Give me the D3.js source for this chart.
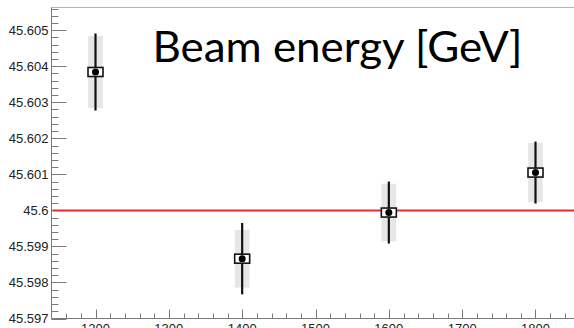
<!DOCTYPE html>
<html>
<head>
<meta charset="utf-8">
<script src="https://cdn.jsdelivr.net/npm/d3@7"></script>
<style>
  html, body { margin: 0; padding: 0; background: #fff; overflow: hidden; }
  svg { display: block; }
</style>
</head>
<body>
<div id="vis"></div>
<script>
// run energies (x) and measured beam energy (y)
var energies = [1200, 1400, 1600, 1800];
var beamEnergy = [45.60384, 45.59866, 45.59994, 45.60105];
var statErr = [0.00107, 0.00099, 0.00086, 0.00086];
var systErr = [0.00100, 0.00080, 0.00080, 0.00082];
var nominal = 45.6;

var xTicks = [1200, 1300, 1400, 1500, 1600, 1700, 1800];
var yTicks = [45.597, 45.598, 45.599, 45.6, 45.601, 45.602, 45.603, 45.604, 45.605];
var yTickLabels = ['45.597', '45.598', '45.599', '45.6', '45.601', '45.602', '45.603', '45.604', '45.605'];

var width = 574, height = 328;

var prefs = {
  frameLeft: 51.5,
  frameRight: 579.5,
  frameTop: 7.5,
  frameBottom: 318.5,
  axisColor: '#7a7a7a',
  labelColor: '#222',
  bandColor: '#e6e6e6',
  lineColor: '#ee2b2b'
};

var x = d3.scaleLinear().domain([1140, 1860]).range([prefs.frameLeft, prefs.frameRight]);
var y = d3.scaleLinear().domain([45.597, 45.60563]).range([prefs.frameBottom, prefs.frameTop]);

var svg = d3.select('#vis').append('svg')
  .attr('width', width)
  .attr('height', height);

/* frame */
svg.append('line')
  .attr('x1', prefs.frameLeft).attr('x2', width + 10)
  .attr('y1', prefs.frameTop).attr('y2', prefs.frameTop)
  .attr('stroke', '#b5b5b5').attr('stroke-width', 1);

/* y axis with ROOT-like long ticks */
var yMinor = d3.range(45.597, 45.6057, 0.0002);
var yAxis = svg.append('g').attr('class', 'y axis');
yAxis.append('line')
  .attr('x1', prefs.frameLeft).attr('x2', prefs.frameLeft)
  .attr('y1', prefs.frameTop).attr('y2', prefs.frameBottom)
  .attr('stroke', prefs.axisColor);
yAxis.selectAll('.minor')
  .data(yMinor)
  .enter().append('line')
    .attr('class', 'minor')
    .attr('x1', prefs.frameLeft).attr('x2', prefs.frameLeft + 7)
    .attr('y1', function(d) { return Math.round(y(d)) + 0.5; })
    .attr('y2', function(d) { return Math.round(y(d)) + 0.5; })
    .attr('stroke', prefs.axisColor);
yAxis.selectAll('.major')
  .data(yTicks)
  .enter().append('line')
    .attr('class', 'major')
    .attr('x1', prefs.frameLeft).attr('x2', prefs.frameLeft + 15)
    .attr('y1', function(d) { return Math.round(y(d)) + 0.5; })
    .attr('y2', function(d) { return Math.round(y(d)) + 0.5; })
    .attr('stroke', prefs.axisColor);
yAxis.selectAll('text')
  .data(yTicks)
  .enter().append('text')
    .attr('x', prefs.frameLeft - 3)
    .attr('y', function(d) { return y(d); })
    .attr('dy', '0.36em')
    .attr('text-anchor', 'end')
    .attr('font-family', '"Liberation Sans", Arial, sans-serif')
    .attr('font-size', 13)
    .attr('fill', prefs.labelColor)
    .text(function(d, i) { return yTickLabels[i]; });

/* x axis */
var xMinor = d3.range(1160, 1861, 20);
var xAxis = svg.append('g').attr('class', 'x axis');
xAxis.append('line')
  .attr('x1', prefs.frameLeft).attr('x2', width + 10)
  .attr('y1', prefs.frameBottom).attr('y2', prefs.frameBottom)
  .attr('stroke', prefs.axisColor);
xAxis.selectAll('.minor')
  .data(xMinor)
  .enter().append('line')
    .attr('class', 'minor')
    .attr('x1', function(d) { return Math.round(x(d)) + 0.5; })
    .attr('x2', function(d) { return Math.round(x(d)) + 0.5; })
    .attr('y1', prefs.frameBottom).attr('y2', prefs.frameBottom - 5)
    .attr('stroke', prefs.axisColor);
xAxis.selectAll('.major')
  .data(xTicks)
  .enter().append('line')
    .attr('class', 'major')
    .attr('x1', function(d) { return Math.round(x(d)) + 0.5; })
    .attr('x2', function(d) { return Math.round(x(d)) + 0.5; })
    .attr('y1', prefs.frameBottom).attr('y2', prefs.frameBottom - 9)
    .attr('stroke', prefs.axisColor);
xAxis.selectAll('text')
  .data(xTicks)
  .enter().append('text')
    .attr('x', function(d) { return x(d); })
    .attr('y', prefs.frameBottom + 14)
    .attr('text-anchor', 'middle')
    .attr('font-family', '"Liberation Sans", Arial, sans-serif')
    .attr('font-size', 13)
    .attr('fill', prefs.labelColor)
    .text(function(d) { return d; });

/* nominal value line */
svg.append('line')
  .attr('x1', prefs.frameLeft + 1).attr('x2', width + 10)
  .attr('y1', y(nominal)).attr('y2', y(nominal))
  .attr('stroke', prefs.lineColor)
  .attr('stroke-width', 2);

/* points */
var points = energies.map(function(e, i) {
  return { e: e, v: beamEnergy[i], stat: statErr[i], syst: systErr[i] };
});

var pts = svg.selectAll('.point')
  .data(points)
  .enter().append('g')
    .attr('class', 'point');

pts.append('rect')
  .attr('x', function(d) { return x(d.e - 10); })
  .attr('width', function(d) { return x(d.e + 10) - x(d.e - 10); })
  .attr('y', function(d) { return y(d.v + d.syst); })
  .attr('height', function(d) { return y(d.v - d.syst) - y(d.v + d.syst); })
  .attr('fill', prefs.bandColor);

pts.append('line')
  .attr('x1', function(d) { return x(d.e); })
  .attr('x2', function(d) { return x(d.e); })
  .attr('y1', function(d) { return y(d.v + d.stat); })
  .attr('y2', function(d) { return y(d.v - d.stat); })
  .attr('stroke', '#111')
  .attr('stroke-width', 2.2);

pts.append('rect')
  .attr('x', function(d) { return x(d.e) - 7.5; })
  .attr('y', function(d) { return y(d.v) - 4.5; })
  .attr('width', 15)
  .attr('height', 9)
  .attr('fill', '#fff')
  .attr('stroke', '#111')
  .attr('stroke-width', 1.6);

pts.append('circle')
  .attr('cx', function(d) { return x(d.e); })
  .attr('cy', function(d) { return y(d.v); })
  .attr('r', 3.5)
  .attr('fill', '#000');

/* slide title */
svg.append('text')
  .attr('x', 152.5)
  .attr('y', 61.5)
  .attr('font-family', 'Lato, "Open Sans", sans-serif')
  .attr('font-size', 43)
  .attr('fill', '#000')
  .attr('textLength', 370)
  .attr('lengthAdjust', 'spacingAndGlyphs')
  .text('Beam energy [GeV]');
</script>
</body>
</html>
